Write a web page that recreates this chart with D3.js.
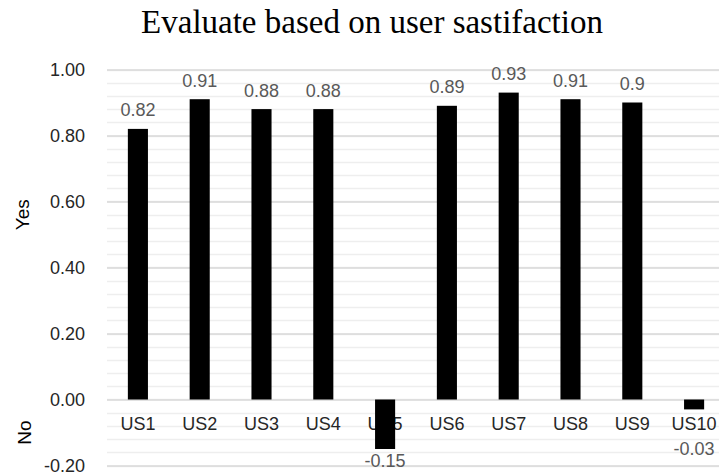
<!DOCTYPE html>
<html>
<head>
<meta charset="utf-8">
<script src="https://cdn.jsdelivr.net/npm/d3@7"></script>
<style>
  html, body { margin: 0; padding: 0; background: #fff; }
  svg { display: block; }
</style>
</head>
<body>
<svg id="chart" width="719" height="475"></svg>
<script>
// Survey results per user story
const categories = ["US1", "US2", "US3", "US4", "US5", "US6", "US7", "US8", "US9", "US10"];
const values = [0.82, 0.91, 0.88, 0.88, -0.15, 0.89, 0.93, 0.91, 0.9, -0.03];
const majorTicks = [-0.2, 0, 0.2, 0.4, 0.6, 0.8, 1.0];
const minorTicks = d3.range(-0.2, 1.0001, 0.04).map(v => +v.toFixed(2));
const titleText = "Evaluate based on user sastifaction";

const svg = d3.select("#chart");
const plot = { left: 107, right: 725, top: 69.5, bottom: 465.5 };
const sans = "'Liberation Sans', Arial, sans-serif";

const x = d3.scaleBand()
  .domain(categories)
  .range([plot.left, plot.right])
  .paddingInner(0.675)
  .paddingOuter(0.3375);

const y = d3.scaleLinear()
  .domain([-0.2, 1.0])
  .range([plot.bottom, plot.top]);

// Minor gridlines
svg.append("g")
  .selectAll("line")
  .data(minorTicks)
  .join("line")
  .attr("x1", plot.left).attr("x2", plot.right)
  .attr("y1", d => Math.round(y(d)) + 0.5)
  .attr("y2", d => Math.round(y(d)) + 0.5)
  .attr("stroke", "#eeeeee")
  .attr("stroke-width", 1.5);

// Major gridlines and tick labels via a left axis
const fmt = d3.format(".2f");
const yAxis = d3.axisLeft(y)
  .tickValues(majorTicks)
  .tickSize(-(plot.right - plot.left))
  .tickPadding(22)
  .tickFormat(d => fmt(d).replace("\u2212", "-"));

svg.append("g")
  .attr("transform", `translate(${plot.left},0)`)
  .call(yAxis)
  .call(g => g.select(".domain").remove())
  .call(g => g.selectAll(".tick line").attr("stroke", "#d9d9d9").attr("stroke-width", 1.5))
  .call(g => g.selectAll(".tick text")
    .attr("fill", "#262626")
    .attr("font-family", sans)
    .attr("font-size", 18));

// Category labels sit just below the zero line, under the bars
svg.append("g")
  .selectAll("text")
  .data(categories)
  .join("text")
  .attr("x", d => x(d) + x.bandwidth() / 2)
  .attr("y", y(0) + 30.5)
  .attr("text-anchor", "middle")
  .attr("fill", "#262626")
  .attr("font-family", sans)
  .attr("font-size", 18)
  .text(d => d);

// Bars
svg.append("g")
  .selectAll("rect")
  .data(values)
  .join("rect")
  .attr("x", (d, i) => x(categories[i]))
  .attr("width", x.bandwidth())
  .attr("y", d => y(Math.max(0, d)))
  .attr("height", d => Math.abs(y(d) - y(0)))
  .attr("fill", "#000");

// Value labels
svg.append("g")
  .selectAll("text")
  .data(values)
  .join("text")
  .attr("x", (d, i) => x(categories[i]) + x.bandwidth() / 2)
  .attr("y", d => d >= 0 ? y(d) - 12.5 : Math.max(y(d) + 18, y(0) + 55.5))
  .attr("text-anchor", "middle")
  .attr("fill", "#595959")
  .attr("font-family", sans)
  .attr("font-size", 18)
  .text(d => String(d));

// Axis titles
svg.append("text")
  .attr("transform", `translate(29,${y(0.56)}) rotate(-90)`)
  .attr("text-anchor", "middle")
  .attr("fill", "#000")
  .attr("font-family", sans)
  .attr("font-size", 19)
  .text("Yes");

svg.append("text")
  .attr("transform", `translate(31,${y(-0.1)}) rotate(-90)`)
  .attr("text-anchor", "middle")
  .attr("fill", "#000")
  .attr("font-family", sans)
  .attr("font-size", 19)
  .text("No");

// Title
svg.append("text")
  .attr("x", 372)
  .attr("y", 33)
  .attr("text-anchor", "middle")
  .attr("fill", "#000")
  .attr("font-family", "'Liberation Serif', 'Times New Roman', serif")
  .attr("font-size", 33)
  .text(titleText);
</script>
</body>
</html>
